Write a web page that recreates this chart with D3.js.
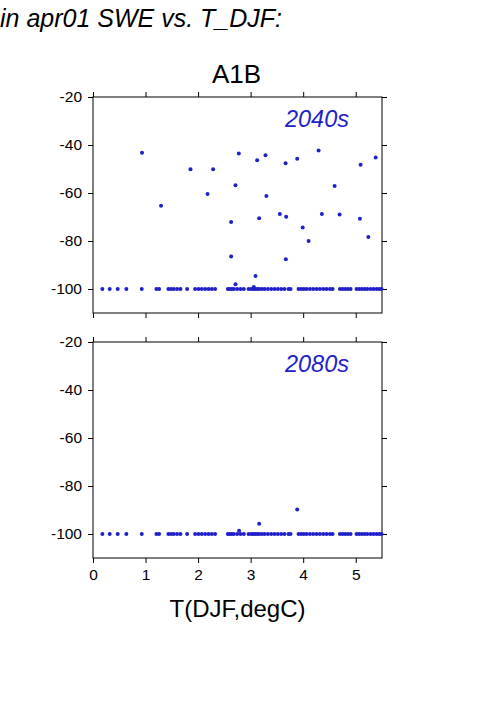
<!DOCTYPE html>
<html>
<head>
<meta charset="utf-8">
<script src="https://cdn.jsdelivr.net/npm/d3@7"></script>
<style>
  html, body { margin: 0; padding: 0; background: #fff; }
  svg { display: block; font-family: "Liberation Sans", Arial, Helvetica, sans-serif; }
</style>
</head>
<body>
<svg id="chart" width="501" height="709"></svg>
<script>
// ---- data ----
const xTicks = [0, 1, 2, 3, 4, 5];
const yTicks = [-20, -40, -60, -80, -100];
const panelLabels = ["2040s", "2080s"];

// T(DJF) values of points at -100 (same stations in both panels)
const floorT = [0.178, 0.318, 0.470, 0.635, 0.928, 1.207, 1.258, 1.435, 1.486, 1.537, 1.600, 1.664,
  1.791, 1.943, 2.007, 2.070, 2.134, 2.198, 2.261, 2.324, 2.566, 2.604, 2.642, 2.680, 2.743, 2.807,
  2.870, 2.960, 3.010, 3.048, 3.086, 3.124, 3.162, 3.213, 3.264, 3.328, 3.391, 3.455, 3.518, 3.582,
  3.645, 3.721, 3.759, 3.912, 3.962, 4.013, 4.064, 4.128, 4.191, 4.255, 4.318, 4.382, 4.445, 4.509,
  4.559, 4.699, 4.750, 4.800, 4.851, 4.902, 5.016, 5.067, 5.118, 5.169, 5.220, 5.283, 5.340, 5.397,
  5.448, 5.490];

// 2040s points above floor
const t2040 = [0.933, 1.295, 1.855, 2.180, 2.286, 2.629, 2.629, 2.712, 2.712, 2.775, 3.060, 3.093, 3.124,
  3.162, 3.283, 3.300, 3.556, 3.665, 3.676, 3.670, 3.886, 3.990, 4.103, 4.293, 4.356, 4.598, 4.693,
  5.093, 5.080, 5.240, 5.380];
const v2040 = [-43.2, -65.3, -50.1, -60.4, -50.1, -72.1, -86.5, -56.8, -98.0, -43.5, -99.2, -94.6, -46.4,
  -70.5, -44.3, -61.2, -68.7, -47.6, -69.9, -87.6, -45.7, -74.4, -80.0, -42.3, -68.7, -57.1, -69.0,
  -48.2, -70.7, -78.3, -45.2];

// 2080s points above floor
const t2080 = [2.780, 3.162, 3.886];
const v2080 = [-98.6, -95.7, -89.8];

const floorValue = -100;

// ---- layout ----
const svg = d3.select("#chart");
const left = 93, right = 382;
const panels = [{ top: 97, bottom: 313 }, { top: 342, bottom: 558 }];
const dotColor = "#2020c8";
const fmt = d => String(d);   // plain hyphen-minus as in the reference

const x = d3.scaleLinear().domain([0, 5.5]).range([left, right]);

svg.append("text")
  .attr("x", 0).attr("y", 27)
  .attr("font-size", 25).attr("font-style", "italic")
  .text("in apr01 SWE vs. T_DJF:");

svg.append("text")
  .attr("x", (left + right) / 2 - 1).attr("y", 83)
  .attr("text-anchor", "middle").attr("font-size", 26)
  .text("A1B");

const series = [
  { t: t2040, v: v2040 },
  { t: t2080, v: v2080 }
];

panels.forEach((p, i) => {
  const y = d3.scaleLinear().domain([-110, -20]).range([p.bottom, p.top]);
  const g = svg.append("g");

  // left axis with labels
  g.append("g").attr("transform", `translate(${left},0)`)
    .call(d3.axisLeft(y).tickValues(yTicks).tickSize(5).tickPadding(6).tickFormat(fmt))
    .call(a => a.select(".domain").remove())
    .call(a => a.selectAll("text").attr("font-size", 15.5).attr("fill", "#000").style("font-family", "Liberation Sans, Arial, sans-serif"));
  // right axis ticks
  g.append("g").attr("transform", `translate(${right},0)`)
    .call(d3.axisRight(y).tickValues(yTicks).tickSize(5).tickFormat(""))
    .call(a => a.select(".domain").remove());
  // top ticks
  g.append("g").attr("transform", `translate(0,${p.top})`)
    .call(d3.axisTop(x).tickValues(xTicks).tickSize(5).tickFormat(""))
    .call(a => a.select(".domain").remove());
  // bottom axis
  const bAx = d3.axisBottom(x).tickValues(xTicks).tickSize(5).tickPadding(6).tickFormat(fmt);
  if (i === 0) bAx.tickFormat("");
  g.append("g").attr("transform", `translate(0,${p.bottom})`)
    .call(bAx)
    .call(a => a.select(".domain").remove())
    .call(a => a.selectAll("text").attr("font-size", 15.5).attr("fill", "#000").style("font-family", "Liberation Sans, Arial, sans-serif"));

  // frame
  g.append("rect")
    .attr("x", left).attr("y", p.top)
    .attr("width", right - left).attr("height", p.bottom - p.top)
    .attr("fill", "none").attr("stroke", "#000").attr("stroke-width", 1);

  // floor points
  g.append("g").selectAll("circle").data(floorT).join("circle")
    .attr("cx", d => x(d)).attr("cy", y(floorValue)).attr("r", 2)
    .attr("fill", dotColor);
  // other points
  const s = series[i];
  g.append("g").selectAll("circle").data(s.t.map((t, k) => [t, s.v[k]])).join("circle")
    .attr("cx", d => x(d[0])).attr("cy", d => y(d[1])).attr("r", 2)
    .attr("fill", dotColor);

  // panel label
  g.append("text")
    .attr("x", 349).attr("y", p.top + 30)
    .attr("text-anchor", "end").attr("font-size", 23.5).attr("font-style", "italic")
    .attr("fill", "#2222cc")
    .text(panelLabels[i]);
});

svg.append("text")
  .attr("x", (left + right) / 2).attr("y", 617)
  .attr("text-anchor", "middle").attr("font-size", 24)
  .text("T(DJF,degC)");
</script>
</body>
</html>
